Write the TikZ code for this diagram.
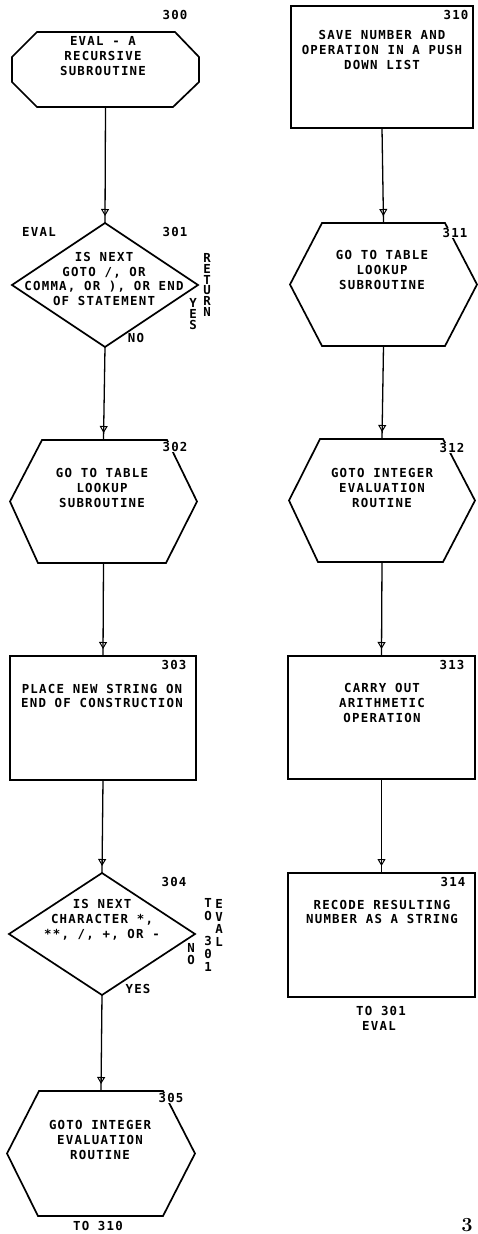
\documentclass[tikz,border=0pt]{standalone}
\usepackage{fontspec}
\usetikzlibrary{arrows.meta,decorations.markings,calc}
\newfontfamily\plotfam[LetterSpace=10]{DejaVu Sans Mono Bold}
\newcommand\ptxt{\plotfam\fontsize{12.4}{14.8}\selectfont}
\newcommand\pvert{\plotfam\fontsize{12.4}{12.8}\selectfont}
\newcommand\pvertb{\plotfam\fontsize{12.4}{10.8}\selectfont}
\newcommand\drawhex[5]{\draw[outline] ($(#1.north west)+(#2,0)$) -- ($(#1.north east)+(-#3,0)$) -- (#1.east) -- ($(#1.south east)+(-#4,0)$) -- ($(#1.south west)+(#5,0)$) -- (#1.west) -- cycle;}
\newcommand\drawdia[1]{\draw[outline] (#1.north) -- (#1.east) -- (#1.south) -- (#1.west) -- cycle;}
\begin{document}
\begin{tikzpicture}[x=1pt,y=-1pt,
  blk/.style={draw=none,inner sep=0pt,outer sep=0pt},
  rectblk/.style={draw,line width=1.7pt,inner sep=0pt,outer sep=0pt},
  outline/.style={line width=1.7pt,line join=miter},
  txt/.style={font=\ptxt,align=center,inner sep=0pt},
  num/.style={font=\ptxt,inner sep=0pt},
  vtxt/.style={font=\pvert,align=center,inner sep=0pt},
  vtxtb/.style={font=\pvertb,align=center,inner sep=0pt},
  flow/.style={line width=1.3pt,postaction={decorate},
    decoration={markings,mark=at position -7pt with {\arrow[line width=1pt]{Triangle[open,length=7pt,width=8pt]}}}}]
\fill[white] (0,0) rectangle (478,1234);
\useasboundingbox (0,0) rectangle (478,1234);

% ---------- left column ----------
\node[blk,minimum width=187pt,minimum height=75pt] (b300) at (105.5,69.5) {};
\draw[outline] ($(b300.north west)+(25,0)$) -- ($(b300.north east)+(-24,0)$) -- ($(b300.north east)+(0,25)$) -- ($(b300.south east)+(0,-25)$) -- ($(b300.south east)+(-26,0)$) -- ($(b300.south west)+(25,0)$) -- ($(b300.south west)+(0,-25)$) -- ($(b300.north west)+(0,25)$) -- cycle;
\node[txt] (t300) at (103,56) {EVAL - A\\RECURSIVE\\SUBROUTINE};
\node[num] (n300) at (175,15) {300};

\node[blk,minimum width=186pt,minimum height=124pt] (b301) at (105,285) {};
\drawdia{b301}
\node[txt] (t301) at (104,279) {IS NEXT\\GOTO /, OR\\COMMA, OR ), OR END\\OF STATEMENT};
\node[num] (n301) at (175,232) {301};
\node[num] (e301) at (39,232) {EVAL};
\node[num] (no301) at (136,338) {NO};
\node[vtxtb] (y301) at (193,314) {Y\\E\\S};
\node[vtxtb] (r301) at (207,285) {R\\E\\T\\U\\R\\N};

\node[blk,minimum width=187pt,minimum height=123pt] (b302) at (103.5,501.5) {};
\drawhex{b302}{32}{30}{31}{28}
\node[txt] (t302) at (102,488) {GO TO TABLE\\LOOKUP\\SUBROUTINE};
\node[num,fill=white,inner sep=0.5pt] (n302) at (175,447) {302};

\node[rectblk,minimum width=186pt,minimum height=124pt] (b303) at (103,718) {};
\node[txt] (t303) at (102,696) {PLACE NEW STRING ON\\END OF CONSTRUCTION};
\node[num] (n303) at (174,665) {303};

\node[blk,minimum width=186pt,minimum height=122pt] (b304) at (102,934) {};
\drawdia{b304}
\node[txt] (t304) at (102,920) {IS NEXT\\CHARACTER *,\\**, /, +, OR -};
\node[num] (n304) at (174,882) {304};
\node[vtxt] (to304) at (208,935) {T\\O\\~\\3\\0\\1};
\node[vtxt] (ev304) at (219,923) {E\\V\\A\\L};
\node[vtxt] (no304) at (191,954) {N\\O};
\node[num] (y304) at (138,989) {YES};

\node[blk,minimum width=188pt,minimum height=125pt] (b305) at (101,1153.5) {};
\drawhex{b305}{32}{32}{32}{31}
\node[txt] (t305) at (100,1140) {GOTO INTEGER\\EVALUATION\\ROUTINE};
\node[num,fill=white,inner sep=0.5pt] (n305) at (171,1098) {305};
\node[num] (to305) at (98,1226) {TO 310};

% ---------- right column ----------
\node[rectblk,minimum width=182pt,minimum height=122pt] (b310) at (382,67) {};
\node[txt] (t310) at (382,50) {SAVE NUMBER AND\\OPERATION IN A PUSH\\DOWN LIST};
\node[num] (n310) at (456,15) {310};

\node[blk,minimum width=187pt,minimum height=123pt] (b311) at (383.5,284.5) {};
\drawhex{b311}{32}{32}{32}{32}
\node[txt] (t311) at (382,270) {GO TO TABLE\\LOOKUP\\SUBROUTINE};
\node[num,fill=white,inner sep=0.5pt] (n311) at (455,233) {311};

\node[blk,minimum width=186pt,minimum height=123pt] (b312) at (382,500.5) {};
\drawhex{b312}{31}{32}{32}{29}
\node[txt] (t312) at (382,488) {GOTO INTEGER\\EVALUATION\\ROUTINE};
\node[num,fill=white,inner sep=0.5pt] (n312) at (452,448) {312};

\node[rectblk,minimum width=187pt,minimum height=123pt] (b313) at (381.5,717.5) {};
\node[txt] (t313) at (382,703) {CARRY OUT\\ARITHMETIC\\OPERATION};
\node[num] (n313) at (452,665) {313};

\node[rectblk,minimum width=187pt,minimum height=124pt] (b314) at (381.5,935) {};
\node[txt] (t314) at (382,912) {RECODE RESULTING\\NUMBER AS A STRING};
\node[num] (n314) at (453,882) {314};
\node[num] (to314) at (381,1011) {TO 301};
\node[num] (ev314) at (379,1026) {EVAL};

% ---------- connectors ----------
\draw[flow] (b300.south) -- (b301.north);
\draw[flow] (b301.south) -- (b302.north);
\draw[flow] (b302.south) -- (b303.north);
\draw[flow] (b303.south) -- (b304.north);
\draw[flow] (b304.south) -- (b305.north);
\draw[flow] (b310.south) -- (b311.north);
\draw[flow] (b311.south) -- (b312.north);
\draw[flow] (b312.south) -- (b313.north);
\draw[flow] (b313.south) -- (b314.north);

% page number
\node[font=\bfseries\fontsize{20}{20}\selectfont,anchor=north,inner sep=0pt] (pg) at (467,1218) {3};
\end{tikzpicture}
\end{document}
